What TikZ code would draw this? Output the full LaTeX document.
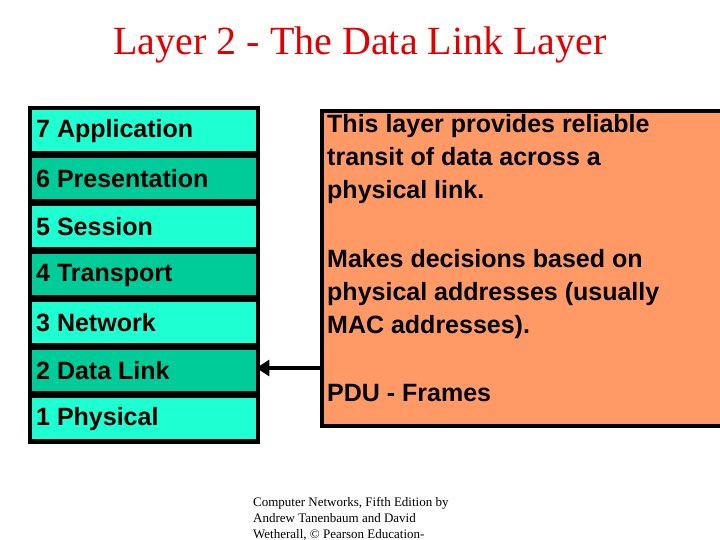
\documentclass[tikz,border=0pt]{standalone}
\usepackage{fontspec}
\usetikzlibrary{arrows.meta}
\setmainfont{Liberation Serif}
\setsansfont{Liberation Sans}
\definecolor{lite}{HTML}{1EFFD2}
\definecolor{dark}{HTML}{00CC99}
\definecolor{orng}{HTML}{FF9966}
\definecolor{ttl}{HTML}{E00000}
\begin{document}
\begin{tikzpicture}[x=1pt,y=-1pt,
  lay/.style={anchor=north west,minimum width=224,minimum height=41,inner sep=0,text depth=0},
  ltxt/.style={anchor=west,font=\fontsize{25}{30}\selectfont\bfseries\sffamily,inner sep=0},
  otxt/.style={anchor=north west,align=left,inner sep=0,font=\fontsize{25}{33}\selectfont\bfseries\sffamily}]
\useasboundingbox[clip] (0,0) rectangle (720,540);
\node[font=\fontsize{40}{44}\selectfont,text=ttl] (title) at (360,45) {Layer 2 - The Data Link Layer};
\fill (28,106) rectangle (260,444);
\foreach \n/\t/\c [count=\i from 0] in {7/Application/lite,6/Presentation/dark,5/Session/lite,4/Transport/dark,3/Network/lite,2/Data Link/dark,1/Physical/lite}{
  \node[lay,fill=\c] (L\n) at (32,110+48*\i) {};
  \node[ltxt] (T\n) at (36,131+48*\i) {\n\ \t};
}
\node[draw=black,line width=4,fill=orng,anchor=north west,minimum width=400,minimum height=315,inner sep=0] (desc) at (320,109) {};
\node[otxt] (p1) at (327,114) {This layer provides reliable\\transit of data across a\\physical link.};
\node[otxt] (p2) at (327,249) {Makes decisions based on\\physical addresses (usually\\MAC addresses).};
\node[otxt] (p3) at (327,384) {PDU - Frames};
\draw[line width=4,-{Triangle[length=13,width=16]}] (desc.west |- 0,368) coordinate (s) -- (L2.east |- s);
\node[anchor=north west,align=left,inner sep=0,font=\fontsize{13}{16}\selectfont] (foot) at (253,497) {Computer Networks, Fifth Edition by\\Andrew Tanenbaum and David\\Wetherall, © Pearson Education-};
\end{tikzpicture}
\end{document}
